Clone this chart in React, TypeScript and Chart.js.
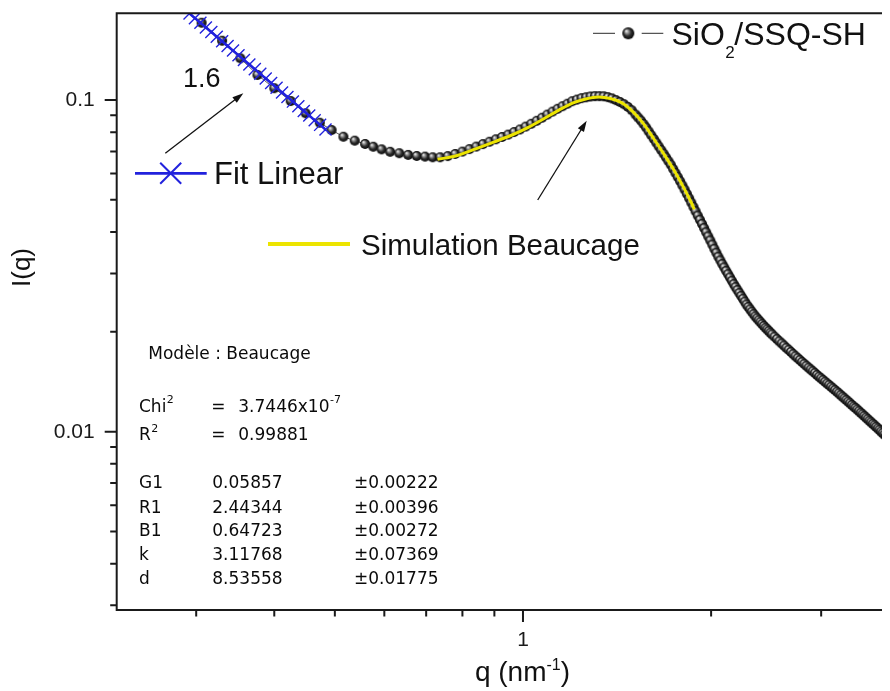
import React, { useEffect, useRef } from 'react';
import { Chart, registerables } from 'chart.js';

Chart.register(...registerables);

// ---------------- data ----------------
const seriesNames = ['SiO2/SSQ-SH', 'Fit Linear', 'Simulation Beaucage'];

// measured SAXS curve, q in nm^-1
const qSample = [
  0.306, 0.330, 0.353, 0.376, 0.400, 0.425, 0.449, 0.473, 0.494, 0.516, 0.538, 0.559, 0.576, 0.594, 0.613, 0.634, 0.655, 0.676, 0.697, 0.717, 0.737,
  0.758, 0.779, 0.800, 0.821, 0.842, 0.863, 0.884, 0.905, 0.926, 0.947, 0.968, 0.989, 1.010, 1.031, 1.052, 1.073, 1.094, 1.115, 1.136, 1.157, 1.178, 1.199,
  1.220, 1.241, 1.262, 1.283, 1.304, 1.325, 1.346, 1.367, 1.388, 1.409, 1.430, 1.451, 1.472, 1.493,
  1.514, 1.529, 1.544, 1.559, 1.574, 1.589, 1.604, 1.619, 1.634, 1.649, 1.664, 1.679, 1.694, 1.709, 1.724, 1.739, 1.754, 1.769, 1.784, 1.799,
  1.814, 1.829, 1.844, 1.859, 1.874, 1.889, 1.904, 1.919, 1.934, 1.949, 1.964, 1.979, 1.994, 2.009, 2.024, 2.039, 2.054, 2.069, 2.084, 2.099,
  2.114, 2.129, 2.144, 2.159, 2.174, 2.189, 2.204, 2.219, 2.234, 2.249, 2.264, 2.279, 2.294, 2.309, 2.324, 2.339, 2.354, 2.369, 2.384, 2.399,
  2.414, 2.429, 2.444, 2.459, 2.474, 2.489, 2.504, 2.5265,
  2.549, 2.5715, 2.594, 2.6165, 2.639, 2.6615, 2.684, 2.7065, 2.729, 2.7515, 2.774, 2.7965, 2.819, 2.8415, 2.864, 2.8865, 2.909, 2.9315, 2.954, 2.9765,
  2.999, 3.0215, 3.044, 3.0665, 3.089, 3.1115, 3.134, 3.1565, 3.179, 3.2015, 3.224, 3.2465, 3.269, 3.2915, 3.314, 3.3365, 3.359, 3.3815, 3.404, 3.4265,
  3.449, 3.4715, 3.494, 3.5165, 3.539, 3.5615, 3.584, 3.6065, 3.629, 3.6515, 3.674, 3.6965, 3.719, 3.7415, 3.764, 3.7865, 3.809, 3.8315, 3.854, 3.8765, 3.899,
];
const iSample = [
  0.1710, 0.1509, 0.1336, 0.1190, 0.1085, 0.0993, 0.0912, 0.0854, 0.0812, 0.0775, 0.0754, 0.0737, 0.0723, 0.0710, 0.0698, 0.0691, 0.0683, 0.0678, 0.0675, 0.0672, 0.0672,
  0.06775, 0.06875, 0.06991, 0.07112, 0.07236, 0.07362, 0.07487, 0.07612, 0.07736, 0.07866, 0.08007, 0.08149, 0.08316, 0.08478, 0.08656, 0.08843, 0.09036, 0.09226, 0.09408, 0.09579, 0.09746, 0.09917,
  0.1003, 0.1013, 0.1019, 0.1025, 0.1027, 0.1027, 0.1026, 0.1020, 0.1011, 0.0999, 0.0986, 0.0971, 0.0953, 0.0931,
  0.0904, 0.08852, 0.08668, 0.08463, 0.08263, 0.08045, 0.07833, 0.07632, 0.07436, 0.07247, 0.07063, 0.06886, 0.06714, 0.06545, 0.06380, 0.06199, 0.06024, 0.05857, 0.05694, 0.05531,
  0.05372, 0.05213, 0.05058, 0.04906, 0.04759, 0.04618, 0.04481, 0.04354, 0.04231, 0.04110, 0.03992, 0.03880, 0.03771, 0.03663, 0.03559, 0.03462, 0.03368, 0.03284, 0.03203, 0.03129,
  0.03053, 0.02984, 0.02917, 0.02851, 0.02786, 0.02729, 0.02674, 0.02619, 0.02567, 0.02516, 0.02466, 0.02418, 0.02377, 0.02337, 0.02300, 0.02262, 0.02226, 0.02197, 0.02167, 0.02139,
  0.02111, 0.02083, 0.02057, 0.02034, 0.02011, 0.01987, 0.01965, 0.01934,
  0.01902, 0.01873, 0.01845, 0.01818, 0.01790, 0.01765, 0.01739, 0.01714, 0.01689, 0.01666, 0.01644, 0.01622, 0.01601, 0.01580, 0.01559, 0.01540, 0.01521, 0.01502, 0.01482, 0.01465,
  0.01448, 0.01431, 0.01414, 0.01397, 0.01382, 0.01366, 0.01350, 0.01335, 0.01320, 0.01305, 0.01289, 0.01275, 0.01260, 0.01246, 0.01232, 0.01218, 0.01204, 0.01191, 0.01179, 0.01166,
  0.01153, 0.01140, 0.01128, 0.01115, 0.01103, 0.01091, 0.01079, 0.01067, 0.01056, 0.01045, 0.01034, 0.01023, 0.01013, 0.01001, 0.009903, 0.009801, 0.009699, 0.009599, 0.009499, 0.009401, 0.009304,
];

// power-law fit (slope 1.6)
const qFit = [
  0.2927, 0.2986, 0.3047, 0.3109, 0.3172, 0.3236, 0.3301, 0.3368, 0.3436, 0.3506, 0.3577, 0.3649, 0.3723,
  0.3799, 0.3876, 0.3954, 0.4034, 0.4116, 0.4199, 0.4284, 0.4371, 0.4459, 0.4550, 0.4642, 0.4736, 0.4831,
];
const iFit = [
  0.1823, 0.1765, 0.1709, 0.1655, 0.1603, 0.1552, 0.1503, 0.1455, 0.1409, 0.1364, 0.1321, 0.1279, 0.1239,
  0.1199, 0.1161, 0.1125, 0.1089, 0.1054, 0.1021, 0.09889, 0.09572, 0.09269, 0.08975, 0.08691, 0.08415, 0.08149,
];

// Beaucage simulation
const qSim = [0.73, 0.78, 0.84, 0.90, 0.96, 1.02, 1.08, 1.14, 1.20, 1.26, 1.32, 1.38, 1.44, 1.50, 1.56, 1.62, 1.68, 1.74, 1.80, 1.86, 1.88];
const iSim = [0.06625, 0.06779, 0.07126, 0.07482, 0.07843, 0.08274, 0.08783, 0.09309, 0.09788, 0.1007, 0.1021, 0.1010, 0.0980, 0.0921, 0.0847, 0.0763, 0.0688, 0.0619, 0.0553, 0.0490, 0.0468];

const xTickValues = [0.3, 0.4, 0.5, 0.6, 0.7, 0.8, 0.9, 1, 2, 3];
const xTickLabels = ['', '', '', '', '', '', '', '1', '', ''];
const yTickValues = [0.003, 0.004, 0.005, 0.006, 0.007, 0.008, 0.009, 0.01, 0.02, 0.03, 0.04, 0.05, 0.06, 0.07, 0.08, 0.09, 0.1];
const yTickLabels = ['', '', '', '', '', '', '', '0.01', '', '', '', '', '', '', '', '', '0.1'];

const xRange = [0.22383, 3.866];
const yRange = [0.0029007, 0.18255];

const slopeLabel = '1.6';
const modelTitle = 'Modèle : Beaucage';
const chiValue = '3.7446x10';
const chiExp = '-7';
const r2Value = '0.99881';
const paramNames = ['G1', 'R1', 'B1', 'k', 'd'];
const paramValues = ['0.05857', '2.44344', '0.64723', '3.11768', '8.53558'];
const paramErrors = ['±0.00222', '±0.00396', '±0.00272', '±0.07369', '±0.01775'];

// ---------------- styles ----------------
const AXIS = '#1a1a1a';
const BLUE = '#2222dd';
const YELLOW = '#ece400';
const SANS = '"Liberation Sans", Arial, sans-serif';
const STAT = '"DejaVu Sans", Verdana, sans-serif';

function makeSphere(r: number) {
  const s = Math.ceil(r * 2) + 2;
  const c = document.createElement('canvas');
  c.width = s;
  c.height = s;
  const g = c.getContext('2d')!;
  const cx = s / 2, cy = s / 2;
  const grad = g.createRadialGradient(cx - r * 0.35, cy - r * 0.4, r * 0.05, cx, cy, r);
  grad.addColorStop(0, '#f2f2f2');
  grad.addColorStop(0.25, '#9a9a9a');
  grad.addColorStop(0.6, '#2e2e2e');
  grad.addColorStop(1, '#050505');
  g.fillStyle = grad;
  g.beginPath();
  g.arc(cx, cy, r, 0, Math.PI * 2);
  g.fill();
  return c;
}

function arrow(ctx: CanvasRenderingContext2D, x1: number, y1: number, x2: number, y2: number) {
  const a = Math.atan2(y2 - y1, x2 - x1);
  const L = 11, W = 3.6;
  ctx.beginPath();
  ctx.moveTo(x1, y1);
  ctx.lineTo(x2 - Math.cos(a) * L * 0.7, y2 - Math.sin(a) * L * 0.7);
  ctx.stroke();
  ctx.beginPath();
  ctx.moveTo(x2, y2);
  ctx.lineTo(x2 - Math.cos(a) * L + Math.sin(a) * W, y2 - Math.sin(a) * L - Math.cos(a) * W);
  ctx.lineTo(x2 - Math.cos(a) * L - Math.sin(a) * W, y2 - Math.sin(a) * L + Math.cos(a) * W);
  ctx.closePath();
  ctx.fill();
}

function labelFor(v: number, vals: number[], labels: string[]) {
  for (let i = 0; i < vals.length; i++) {
    if (Math.abs(vals[i] - v) / vals[i] < 1e-6) return labels[i];
  }
  return '';
}

function zeroPad(s: any) {
  s.paddingTop = 0;
  s.paddingBottom = 0;
  s.paddingLeft = 0;
  s.paddingRight = 0;
}

function pairs(xs: number[], ys: number[]) {
  const n = Math.min(xs.length, ys.length);
  const out: { x: number; y: number }[] = [];
  for (let i = 0; i < n; i++) out.push({ x: xs[i], y: ys[i] });
  return out;
}

export default function App() {
  const ref = useRef<HTMLCanvasElement>(null);

  useEffect(() => {
    document.body.style.overflow = 'hidden';
    const sphere = makeSphere(5);
    const legendSphere = makeSphere(6);

    const overlay = {
      id: 'overlay',
      afterDraw(chart: any) {
        const ctx: CanvasRenderingContext2D = chart.ctx;
        const ca = chart.chartArea;
        const xs = chart.scales.x;
        const ys = chart.scales.y;
        ctx.save();

        // frame
        ctx.strokeStyle = AXIS;
        ctx.lineWidth = 2;
        ctx.beginPath();
        ctx.moveTo(ca.left - 1, ca.top);
        ctx.lineTo(ca.right, ca.top);
        ctx.moveTo(ca.left, ca.top - 1);
        ctx.lineTo(ca.left, ca.bottom + 1);
        ctx.moveTo(ca.left - 1, ca.bottom);
        ctx.lineTo(ca.right, ca.bottom);
        ctx.stroke();

        // tick marks
        ctx.lineWidth = 2;
        ctx.beginPath();
        xTickValues.forEach((v, i) => {
          const px = xs.getPixelForValue(v);
          const len = xTickLabels[i] ? 12 : 6.5;
          ctx.moveTo(px, ca.bottom);
          ctx.lineTo(px, ca.bottom + len);
        });
        yTickValues.forEach((v, i) => {
          const py = ys.getPixelForValue(v);
          const len = yTickLabels[i] ? 12 : 6.5;
          ctx.moveTo(ca.left, py);
          ctx.lineTo(ca.left - len, py);
        });
        ctx.stroke();

        ctx.fillStyle = '#111';
        ctx.textBaseline = 'alphabetic';
        ctx.textAlign = 'left';

        // slope label + arrows
        ctx.font = `27px ${SANS}`;
        ctx.fillText(slopeLabel, 175, 79.3);
        ctx.strokeStyle = '#111';
        ctx.lineWidth = 1.3;
        arrow(ctx, 157.3, 145.3, 235.3, 85.3);
        arrow(ctx, 529.7, 192, 578.7, 112.7);

        // Fit Linear legend
        ctx.strokeStyle = BLUE;
        ctx.lineWidth = 2.7;
        ctx.beginPath();
        ctx.moveTo(127, 165.3);
        ctx.lineTo(198.7, 165.3);
        ctx.stroke();
        ctx.lineWidth = 2;
        ctx.beginPath();
        ctx.moveTo(162.7 - 10.5, 165.3 - 10.5);
        ctx.lineTo(162.7 + 10.5, 165.3 + 10.5);
        ctx.moveTo(162.7 - 10.5, 165.3 + 10.5);
        ctx.lineTo(162.7 + 10.5, 165.3 - 10.5);
        ctx.stroke();
        ctx.font = `31px ${SANS}`;
        ctx.fillText(seriesNames[1], 206, 176);

        // Simulation legend
        ctx.strokeStyle = YELLOW;
        ctx.lineWidth = 4;
        ctx.beginPath();
        ctx.moveTo(260, 236);
        ctx.lineTo(342, 236);
        ctx.stroke();
        ctx.font = `29.5px ${SANS}`;
        ctx.fillText(seriesNames[2], 353, 247);

        // SiO2/SSQ-SH legend
        ctx.strokeStyle = '#555';
        ctx.lineWidth = 1.3;
        ctx.beginPath();
        ctx.moveTo(585, 25.3);
        ctx.lineTo(607, 25.3);
        ctx.moveTo(633.7, 25.3);
        ctx.lineTo(655.3, 25.3);
        ctx.stroke();
        ctx.drawImage(legendSphere, 620.3 - legendSphere.width / 2, 25.3 - legendSphere.height / 2);
        {
          let x = 663.5;
          ctx.font = `32px ${SANS}`;
          ctx.fillText('SiO', x, 37);
          x += ctx.measureText('SiO').width;
          ctx.font = `17px ${SANS}`;
          ctx.fillText('2', x + 0.5, 50.3);
          x += ctx.measureText('2').width;
          ctx.font = `32px ${SANS}`;
          ctx.fillText('/SSQ-SH', x, 37);
        }

        // axis titles
        ctx.save();
        ctx.translate(15, 259.5);
        ctx.rotate(-Math.PI / 2);
        ctx.font = `26px ${SANS}`;
        ctx.textAlign = 'center';
        ctx.textBaseline = 'middle';
        ctx.fillText('I(q)', 0, 0);
        ctx.restore();
        {
          ctx.font = `28px ${SANS}`;
          const w1 = ctx.measureText('q (nm').width;
          const w3 = ctx.measureText(')').width;
          ctx.font = `16px ${SANS}`;
          const w2 = ctx.measureText('-1').width;
          let x = 514.5 - (w1 + w2 + w3) / 2;
          ctx.font = `28px ${SANS}`;
          ctx.fillText('q (nm', x, 673);
          x += w1;
          ctx.font = `16px ${SANS}`;
          ctx.fillText('-1', x, 662);
          x += w2;
          ctx.font = `28px ${SANS}`;
          ctx.fillText(')', x, 673);
        }

        // statistics block
        ctx.fillStyle = '#0a0a0a';
        const F = `17px ${STAT}`;
        ctx.font = F;
        ctx.fillText(modelTitle, 140.3, 351.3);
        const sup = (base: string, exp: string, x: number, y: number) => {
          ctx.font = F;
          ctx.fillText(base, x, y);
          const w = ctx.measureText(base).width;
          ctx.font = `11px ${STAT}`;
          ctx.fillText(exp, x + w + 0.5, y - 8.5);
          ctx.font = F;
        };
        sup('Chi', '2', 131, 403.7);
        ctx.fillText('=', 203.2, 403.7);
        sup(chiValue, chiExp, 230.3, 403.7);
        sup('R', '2', 131, 432);
        ctx.fillText('=', 203.2, 432);
        ctx.fillText(r2Value, 230.3, 432);
        const rows = [480.3, 504.7, 528, 552, 576];
        paramNames.forEach((n, i) => {
          ctx.fillText(n, 131, rows[i]);
          ctx.fillText(paramValues[i], 204.3, rows[i]);
          ctx.fillText(paramErrors[i], 346, rows[i]);
        });

        ctx.restore();
      },
    };

    const chart = new Chart(ref.current!, {
      type: 'scatter',
      data: {
        datasets: [
          {
            label: seriesNames[1],
            data: pairs(qFit, iFit),
            showLine: true,
            borderColor: BLUE,
            borderWidth: 2.5,
            pointStyle: 'crossRot',
            pointRadius: 8.5,
            pointBorderColor: BLUE,
            pointBorderWidth: 1.4,
            pointBackgroundColor: 'rgba(0,0,0,0)',
            clip: 0,
          },
          {
            label: seriesNames[2],
            data: pairs(qSim, iSim),
            showLine: true,
            borderColor: YELLOW,
            borderWidth: 3,
            pointRadius: 0,
            tension: 0.3,
            clip: 0,
          },
          {
            label: seriesNames[0],
            data: pairs(qSample, iSample),
            showLine: true,
            borderColor: '#555',
            borderWidth: 1,
            pointStyle: sphere as any,
            pointRadius: 5,
            clip: 0,
          },
        ],
      },
      options: {
        animation: false,
        responsive: false,
        events: [],
        layout: { padding: { left: 0, right: 0, top: 5.3, bottom: 0 }, autoPadding: false },
        plugins: { legend: { display: false }, tooltip: { enabled: false } },
        scales: {
          x: {
            type: 'logarithmic',
            position: 'bottom',
            min: xRange[0],
            max: xRange[1],
            bounds: 'data',
            grid: { display: false, drawTicks: false },
            border: { display: false },
            ticks: {
              autoSkip: false,
              maxRotation: 0,
              minRotation: 0,
              padding: 18,
              color: AXIS,
              font: { family: SANS, size: 21 },
              callback: (v: any) => labelFor(Number(v), xTickValues, xTickLabels),
            },
            afterBuildTicks: (s: any) => {
              s.ticks = xTickValues.map((v) => ({ value: v }));
            },
            afterFit: (s: any) => {
              s.height = 81;
              zeroPad(s);
            },
          },
          y: {
            type: 'logarithmic',
            position: 'left',
            min: yRange[0],
            max: yRange[1],
            bounds: 'data',
            grid: { display: false, drawTicks: false },
            border: { display: false },
            ticks: {
              autoSkip: false,
              padding: 22,
              color: AXIS,
              font: { family: SANS, size: 21 },
              callback: (v: any) => labelFor(Number(v), yTickValues, yTickLabels),
            },
            afterBuildTicks: (s: any) => {
              s.ticks = yTickValues.map((v) => ({ value: v }));
            },
            afterFit: (s: any) => {
              s.width = 108.7;
              zeroPad(s);
            },
          },
        },
      } as any,
      plugins: [overlay],
    });

    return () => chart.destroy();
  }, []);

  return (
    <div style={{ width: 882, height: 683 }}>
      <canvas ref={ref} width={882} height={683} style={{ display: 'block' }} />
    </div>
  );
}
